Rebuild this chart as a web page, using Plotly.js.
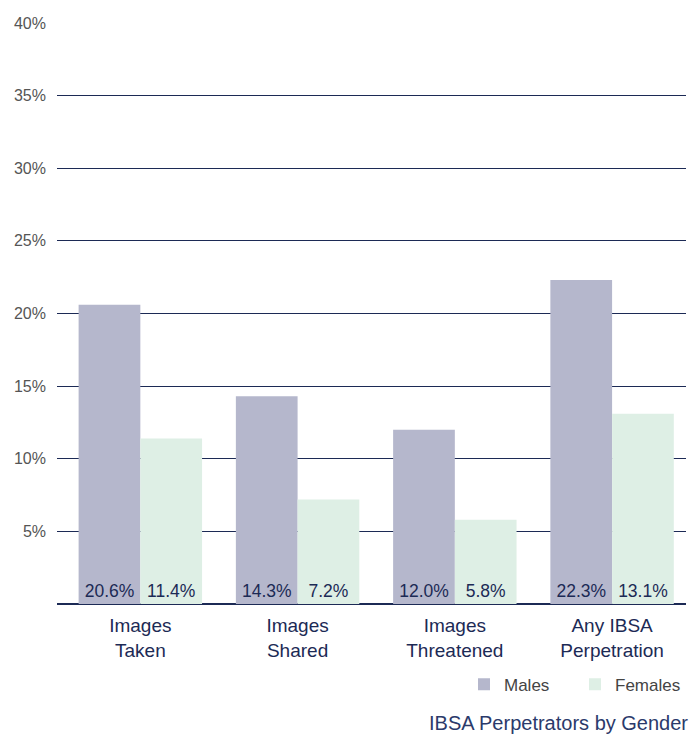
<!DOCTYPE html>
<html>
<head>
<meta charset="utf-8">
<script src="https://cdn.plot.ly/plotly-3.0.1.min.js"></script>
<style>html,body{margin:0;padding:0;background:#fff;}#chart{width:691px;height:736px;}</style>
</head>
<body>
<div id="chart"></div>
<script>
const categories = ["Images<br>Taken", "Images<br>Shared", "Images<br>Threatened", "Any IBSA<br>Perpetration"];
const males = [20.6, 14.3, 12.0, 22.3];
const females = [11.4, 7.2, 5.8, 13.1];
const tickVals = [5, 10, 15, 20, 25, 30, 35, 40];
const tickText = ["5%", "10%", "15%", "20%", "25%", "30%", "35%", "40%"];
const chartTitle = "IBSA Perpetrators by Gender";

const FONT = "Liberation Sans, Arial, sans-serif";
const NAVY = "#1c2a55";
const xs = categories.map((c, i) => i);

const mk = (name, vals, color) => ({
  type: "bar", name: name, x: xs, y: vals,
  marker: {color: color},
  text: vals.map(v => v.toFixed(1) + "%"),
  textposition: "inside", insidetextanchor: "start",
  textangle: 0,
  insidetextfont: {family: FONT, size: 17.5, color: NAVY},
  hoverinfo: "skip", cliponaxis: false
});

const data = [mk("Males", males, "#b5b7cc"), mk("Females", females, "#deefe5")];

const layout = {
  width: 691, height: 736,
  margin: {l: 57, r: 5, t: 23, b: 132},
  paper_bgcolor: "#fff", plot_bgcolor: "#fff",
  barmode: "group", bargap: 0.215, bargroupgap: 0,
  font: {family: FONT, color: "#555"},
  showlegend: true,
  legend: {orientation: "h", x: 1.0, xanchor: "right", y: -0.139, yanchor: "middle",
           entrywidth: 66, entrywidthmode: "pixels",
           font: {family: FONT, size: 17, color: "#444"}, itemwidth: 30, traceorder: "normal"},
  xaxis: {
    range: [-0.53, 3.47], tickvals: xs, ticktext: categories,
    showgrid: false, zeroline: false, showline: false, ticks: "",
    ticklabelstandoff: 8,
    tickfont: {family: FONT, size: 19, color: NAVY}, fixedrange: true
  },
  yaxis: {
    range: [0, 40], tickvals: tickVals, ticktext: tickText,
    showgrid: true, gridcolor: NAVY, gridwidth: 1.2,
    zeroline: true, zerolinecolor: NAVY, zerolinewidth: 1.5,
    showline: false, ticks: "", ticklabelstandoff: 10,
    tickfont: {family: FONT, size: 16, color: "#555"}, fixedrange: true
  },
  annotations: [{
    text: chartTitle, xref: "paper", yref: "paper", x: 1.007, y: -0.204,
    xanchor: "right", yanchor: "middle", showarrow: false,
    font: {family: FONT, size: 20, color: "#2b3a6b"}
  }]
};

Plotly.newPlot("chart", data, layout, {displayModeBar: false, staticPlot: true});
</script>
</body>
</html>
